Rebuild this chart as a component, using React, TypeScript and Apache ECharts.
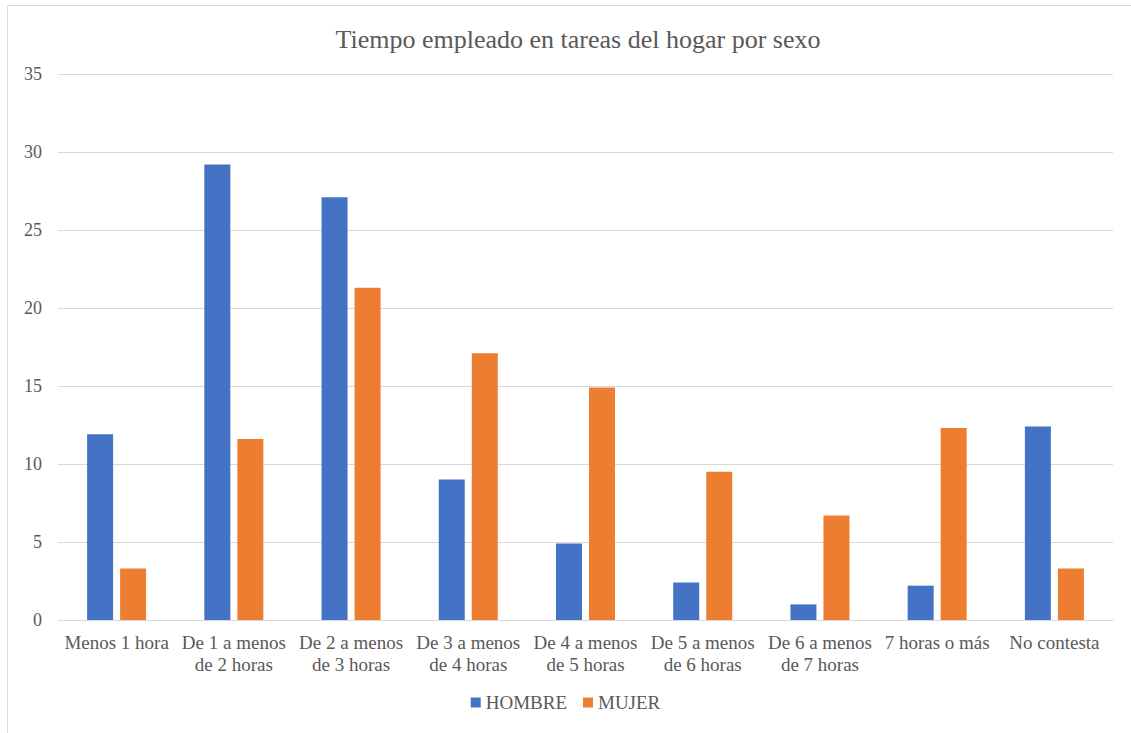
import React, { useEffect, useRef } from "react";
import * as echarts from "echarts";

const categories = [
  "Menos 1 hora",
  "De 1 a menos\nde 2 horas",
  "De 2 a menos\nde 3 horas",
  "De 3 a menos\nde 4 horas",
  "De 4 a menos\nde 5 horas",
  "De 5 a menos\nde 6 horas",
  "De 6 a menos\nde 7 horas",
  "7 horas o más",
  "No contesta",
];

const hombre = [11.9, 29.2, 27.1, 9.0, 4.9, 2.4, 1.0, 2.2, 12.4];
const mujer = [3.3, 11.6, 21.3, 17.1, 14.9, 9.5, 6.7, 12.3, 3.3];

const FONT = "Times New Roman, Liberation Serif, serif";
const TEXT = "#595959";
const GRID = "#d9d9d9";

export default function App() {
  const ref = useRef<HTMLDivElement>(null);

  useEffect(() => {
    document.body.style.margin = "0";
    const chart = echarts.init(ref.current!, null, { renderer: "svg" });
    chart.setOption({
      animation: false,
      backgroundColor: "#ffffff",
      textStyle: { fontFamily: FONT },
      graphic: [
        {
          type: "rect",
          shape: { x: 7.5, y: 5.5, width: 1200, height: 800 },
          style: { fill: "none", stroke: GRID, lineWidth: 1 },
          silent: true,
        },
      ],
      title: {
        text: "Tiempo empleado en tareas del hogar por sexo",
        left: 573,
        textAlign: "center",
        top: 21,
        textStyle: { fontFamily: FONT, fontSize: 26, fontWeight: "normal", color: TEXT },
      },
      legend: {
        bottom: 16,
        left: "center",
        icon: "rect",
        itemWidth: 10,
        itemHeight: 10,
        itemGap: 16,
        textStyle: { fontFamily: FONT, fontSize: 19, color: TEXT },
        data: ["HOMBRE", "MUJER"],
      },
      grid: { left: 58, right: 18, top: 74, bottom: 113, containLabel: false },
      xAxis: {
        type: "category",
        data: categories,
        axisLine: { lineStyle: { color: GRID, width: 1 } },
        axisTick: { show: false },
        axisLabel: {
          interval: 0,
          fontFamily: FONT,
          fontSize: 19,
          color: TEXT,
          lineHeight: 22,
          margin: 11,
        },
      },
      yAxis: {
        type: "value",
        min: 0,
        max: 35,
        interval: 5,
        axisLine: { show: false },
        axisTick: { show: false },
        splitLine: { lineStyle: { color: GRID, width: 1 } },
        axisLabel: { fontFamily: FONT, fontSize: 18, color: TEXT, margin: 16 },
      },
      series: [
        {
          name: "HOMBRE",
          type: "bar",
          data: hombre,
          barWidth: 26,
          barGap: "27%",
          itemStyle: { color: "#4472c4" },
        },
        {
          name: "MUJER",
          type: "bar",
          data: mujer,
          barWidth: 26,
          barGap: "27%",
          itemStyle: { color: "#ed7d31" },
        },
      ],
    });
    return () => chart.dispose();
  }, []);

  return <div ref={ref} style={{ width: 1131, height: 733 }} />;
}
